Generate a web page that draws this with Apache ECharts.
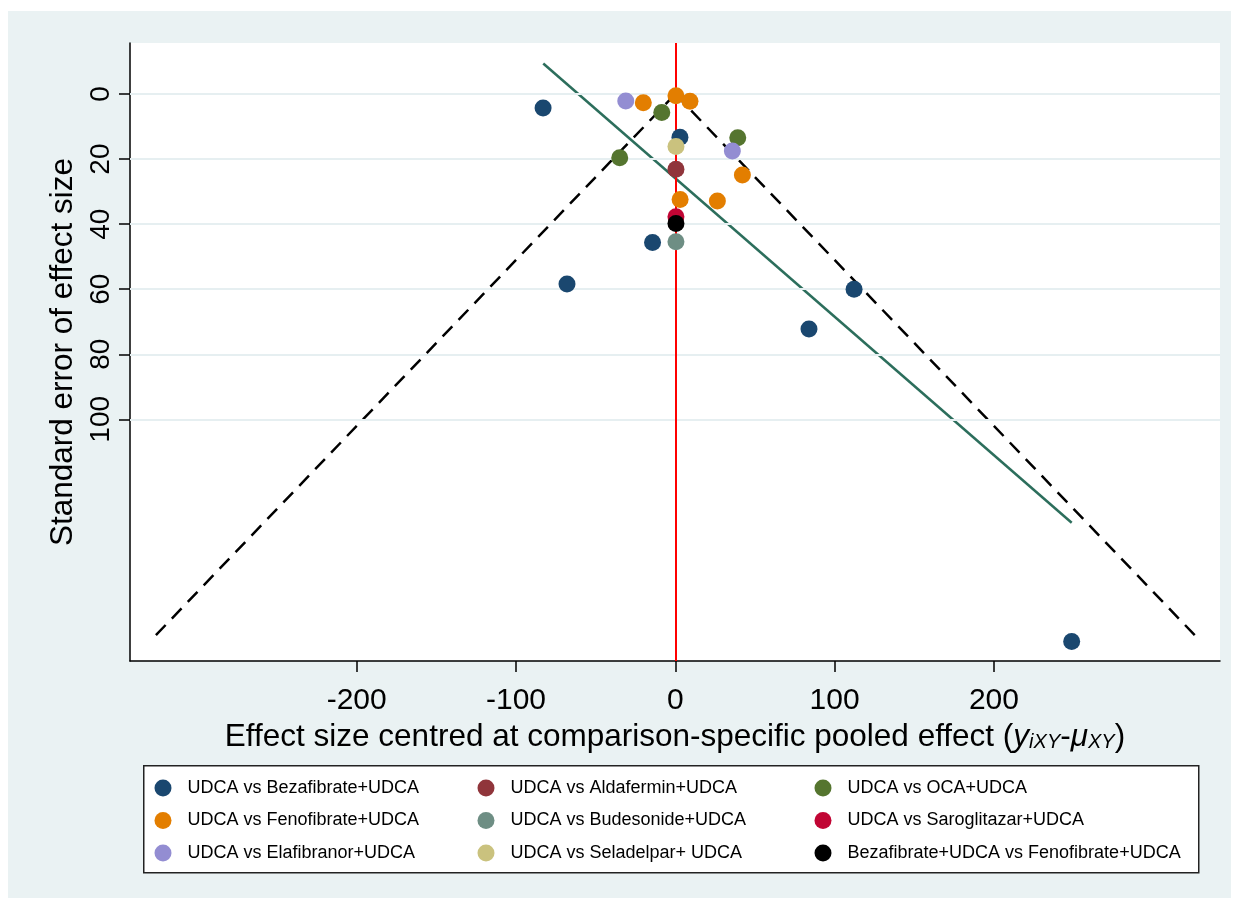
<!DOCTYPE html>
<html>
<head>
<meta charset="utf-8">
<script src="https://cdn.jsdelivr.net/npm/echarts@6/dist/echarts.min.js"></script>
<style>
html,body{margin:0;padding:0;background:#ffffff;}
#bg{position:absolute;left:8px;top:11px;width:1223px;height:887px;background:#eaf2f3;}
#chart{position:absolute;left:0;top:0;width:1239px;height:908px;}
</style>
</head>
<body>
<div id="bg"></div>
<div id="chart"></div>
<script>
// ---- data (x = centred effect size, y = standard error) ----
const seriesNames = [
  'UDCA vs Bezafibrate+UDCA', 'UDCA vs Aldafermin+UDCA', 'UDCA vs OCA+UDCA',
  'UDCA vs Fenofibrate+UDCA', 'UDCA vs Budesonide+UDCA', 'UDCA vs Saroglitazar+UDCA',
  'UDCA vs Elafibranor+UDCA', 'UDCA vs Seladelpar+ UDCA', 'Bezafibrate+UDCA vs Fenofibrate+UDCA'
];
const seriesColors = ['#1a476f','#90353b','#55752f','#e37e00','#6e8e84','#c10534','#938dd2','#cac27e','#000000'];

const bezafibrate = [[-83.0,4.3],[2.9,13.3],[-14.3,45.6],[-68.0,58.4],[112.2,60.0],[83.9,72.2],[248.8,168.3]];
const aldafermin  = [[0.4,23.1]];
const oca         = [[-8.5,5.7],[39.2,13.4],[-34.9,19.6]];
const fenofibrate = [[-20.1,2.7],[0.4,0.5],[9.2,2.2],[42.1,24.9],[3.0,32.4],[26.4,32.9]];
const budesonide  = [[0.4,45.4]];
const saroglitazar= [[0.4,37.7]];
const elafibranor = [[-31.1,2.1],[35.8,17.5]];
const seladelpar  = [[0.4,16.1]];
const bezaVsFeno  = [[0.4,39.8]];
const pointSets = [bezafibrate, aldafermin, oca, fenofibrate, budesonide, saroglitazar, elafibranor, seladelpar, bezaVsFeno];

// pseudo 95% funnel limits and regression line
const funnelLeft  = [[0,0],[-328.9,167.8]];
const funnelRight = [[0,0],[328.9,167.8]];
const regLine     = [[-82.9,-9.4],[248.8,131.8]];

const xTicks = [-200,-100,0,100,200];
const yTicks = [0,20,40,60,80,100];
const xRange = [-342.3, 341.9];
const yRange = [-15.7, 174.3];

const FONT = 'Liberation Sans, Arial, sans-serif';

const scatterSeries = pointSets.map((d, i) => ({
  name: seriesNames[i], type: 'scatter', data: d, symbol: 'circle', symbolSize: 17,
  itemStyle: {color: seriesColors[i], opacity: 1}, z: 5, silent: true
}));

const option = {
  backgroundColor: 'transparent',
  animation: false,
  grid: {left: 130, top: 43, right: 19, bottom: 247, show: true, backgroundColor: '#ffffff', borderWidth: 0},
  xAxis: {
    type: 'value', min: xRange[0], max: xRange[1],
    axisLine: {show: true, onZero: false, lineStyle: {color: '#000', width: 1.5}},
    axisTick: {show: true, length: 11, customValues: xTicks, lineStyle: {color: '#000', width: 1.5}},
    axisLabel: {customValues: xTicks, fontSize: 30, fontFamily: FONT, color: '#000', margin: 25},
    splitLine: {show: false},
    name: 'Effect size centred at comparison-specific pooled effect ({it|y}{sub|iXY}-{it|μ}{sub|XY})',
    nameLocation: 'middle', nameGap: 55,
    nameTextStyle: {fontSize: 31.5, fontFamily: FONT, color: '#000',
      rich: {
        it: {fontSize: 31.5, fontStyle: 'italic', fontFamily: FONT, color: '#000'},
        sub: {fontSize: 20, fontStyle: 'italic', fontFamily: FONT, color: '#000', verticalAlign: 'bottom'}
      }}
  },
  yAxis: {
    type: 'value', inverse: true, min: yRange[0], max: yRange[1],
    axisLine: {show: true, onZero: false, lineStyle: {color: '#000', width: 1.5}},
    axisTick: {show: true, length: 11, customValues: yTicks, lineStyle: {color: '#000', width: 1.5}},
    axisLabel: {customValues: yTicks, fontSize: 28, fontFamily: FONT, color: '#000', rotate: 90, margin: 15},
    splitLine: {show: false},
    name: 'Standard error of effect size', nameLocation: 'middle', nameRotate: 90, nameGap: 49,
    nameTextStyle: {fontSize: 31.5, fontFamily: FONT, color: '#000'}
  },
  legend: [0,1,2].map(c => ({
    orient: 'vertical', left: [154.5, 477.5, 814.5][c], top: 779, padding: 0,
    itemWidth: 17, itemHeight: 17, itemGap: 14.5, icon: 'circle',
    selectedMode: false,
    data: [seriesNames[c], seriesNames[c+3], seriesNames[c+6]],
    textStyle: {fontSize: 18, fontFamily: FONT, color: '#000', padding: [0,0,0,11], lineHeight: 17}
  })),
  graphic: [{
    type: 'rect', left: 143, top: 765, z: 0,
    shape: {width: 1055, height: 107},
    style: {fill: '#ffffff', stroke: '#222', lineWidth: 1.5}
  }],
  series: [
    {
      type: 'line', data: [], silent: true, z: 1,
      markLine: {silent: true, symbol: 'none', label: {show: false}, animation: false,
        lineStyle: {color: '#e6eff1', width: 2, type: 'solid'},
        data: yTicks.map(v => ({yAxis: v}))}
    },
    {
      type: 'line', data: [], silent: true, z: 2,
      markLine: {silent: true, symbol: 'none', label: {show: false}, animation: false,
        lineStyle: {color: '#ff0000', width: 2, type: 'solid'},
        data: [{xAxis: 0}]}
    },
    {type: 'line', data: funnelLeft, symbol: 'none', silent: true, z: 3,
      lineStyle: {color: '#000', width: 2.5, type: [14, 9]}},
    {type: 'line', data: funnelRight, symbol: 'none', silent: true, z: 3,
      lineStyle: {color: '#000', width: 2.5, type: [14, 9]}},
    {type: 'line', data: regLine, symbol: 'none', silent: true, z: 3,
      lineStyle: {color: '#2c6e5c', width: 2.5}},
    ...scatterSeries
  ]
};

const chart = echarts.init(document.getElementById('chart'), null, {renderer: 'canvas'});
chart.setOption(option);
</script>
</body>
</html>
